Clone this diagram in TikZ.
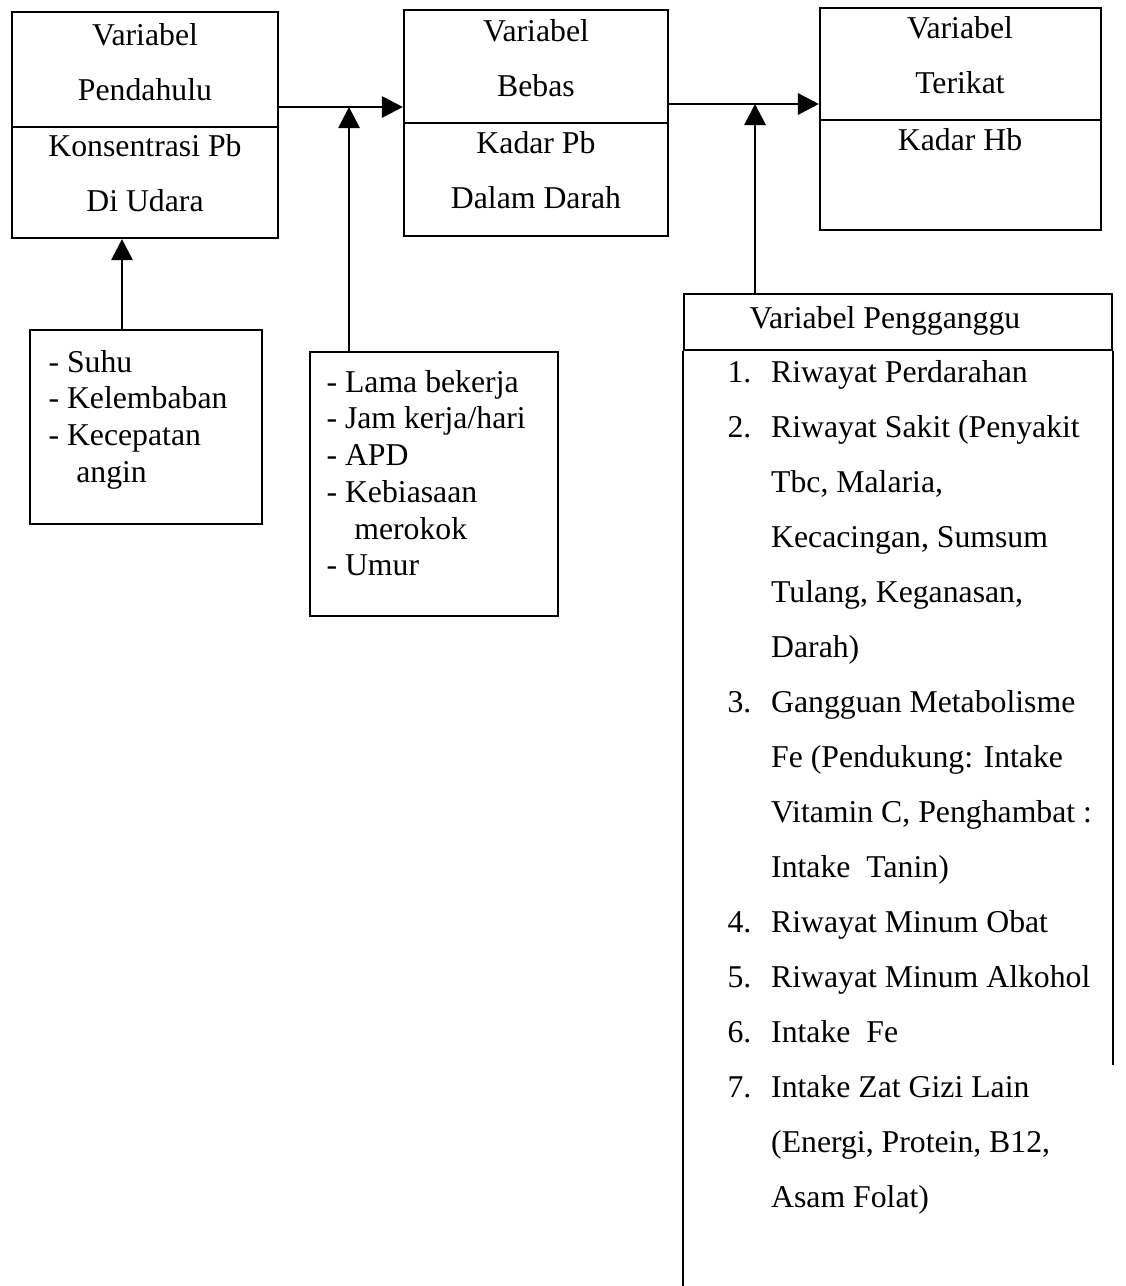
\documentclass[tikz,border=0pt]{standalone}
\usepackage{fontspec}
\setmainfont{Liberation Serif}
\usetikzlibrary{arrows.meta,fit}

\begin{document}
\begin{tikzpicture}[x=0.378pt,y=-0.378pt,
    box/.style={draw,line width=0.8pt,inner sep=0pt},
    wide/.style={inner sep=0pt,anchor=base,font=\fontsize{12}{20.8}\selectfont},
    tight/.style={inner sep=0pt,anchor=base west,font=\fontsize{12}{13.9}\selectfont},
    arr/.style={line width=1.1pt,-{Triangle[length=8pt,width=8pt]}}]
  \useasboundingbox (0,0) rectangle (1126,1286);

  \node[box,fit={(12,12) (278,238)}] (pend) {};
  \node[box,fit={(404,10) (668,236)}] (bebas) {};
  \node[box,fit={(820,8) (1101,230)}] (terikat) {};
  \node[box,fit={(30,330) (262,524)}] (udara) {};
  \node[box,fit={(310,352) (558,616)}] (pekerja) {};
  \node[box,fit={(684,294) (1112,350)}] (ganggu) {};

  \draw[line width=0.8pt] (pend.west |- 0,127) -- (pend.east |- 0,127);
  \draw[line width=0.8pt] (bebas.west |- 0,123) -- (bebas.east |- 0,123);
  \draw[line width=0.8pt] (terikat.west |- 0,120) -- (terikat.east |- 0,120);
  \draw[line width=0.8pt] (ganggu.south west) -- (ganggu.south west |- 0,1286);
  \draw[line width=0.8pt] (ganggu.south east) -- (ganggu.south east |- 0,1065);

  \node[wide] (pendJ) at (145,45) {\begin{tabular}[t]{@{}c@{}}Variabel\\Pendahulu\end{tabular}};
  \node[wide] (pendI) at (145,156) {\begin{tabular}[t]{@{}c@{}}Konsentrasi Pb\\Di Udara\end{tabular}};
  \node[wide] (bebasJ) at (536,41) {\begin{tabular}[t]{@{}c@{}}Variabel\\Bebas\end{tabular}};
  \node[wide] (bebasI) at (536,153) {\begin{tabular}[t]{@{}c@{}}Kadar Pb\\Dalam Darah\end{tabular}};
  \node[wide] (terikatJ) at (960,38) {\begin{tabular}[t]{@{}c@{}}Variabel\\Terikat\end{tabular}};
  \node[wide] (terikatI) at (960,150) {Kadar Hb};
  \node[wide] (gangguJ) at (885,328) {Variabel Pengganggu};

  \node[tight] (udaraI) at (48,372) {\begin{tabular}[t]{@{}l@{}}- Suhu\\- Kelembaban\\- Kecepatan\\\hspace*{10.5pt}angin\end{tabular}};
  \node[tight] (pekerjaI) at (326,392) {\begin{tabular}[t]{@{}l@{}}- Lama bekerja\\- Jam kerja/hari\\- APD\\- Kebiasaan\\\hspace*{10.5pt}merokok\\- Umur\end{tabular}};

  \node[wide,anchor=base west] (gangguI) at (727,382) {\begin{tabular}[t]{@{}p{16.5pt}@{}l@{}}
    1. & Riwayat Perdarahan\\
    2. & Riwayat Sakit (Penyakit\\
       & Tbc, Malaria,\\
       & Kecacingan, Sumsum\\
       & Tulang, Keganasan,\\
       & Darah)\\
    3. & Gangguan Metabolisme\\
       & Fe (Pendukung: Intake\\
       & Vitamin C, Penghambat :\\
       & Intake\ \ Tanin)\\
    4. & Riwayat Minum Obat\\
    5. & Riwayat Minum Alkohol\\
    6. & Intake\ \ Fe\\
    7. & Intake Zat Gizi Lain\\
       & (Energi, Protein, B12,\\
       & Asam Folat)
  \end{tabular}};

  \coordinate (j1) at (349,107);
  \coordinate (j2) at (755,104);
  \draw[arr] (pend.east |- j1) -- (bebas.west |- j1);
  \draw[arr] (pekerja.north -| j1) -- (j1);
  \draw[arr] (udara.north -| 122,0) -- (pend.south -| 122,0);
  \draw[arr] (bebas.east |- j2) -- (terikat.west |- j2);
  \draw[arr] (ganggu.north -| j2) -- (j2);
\end{tikzpicture}
\end{document}
